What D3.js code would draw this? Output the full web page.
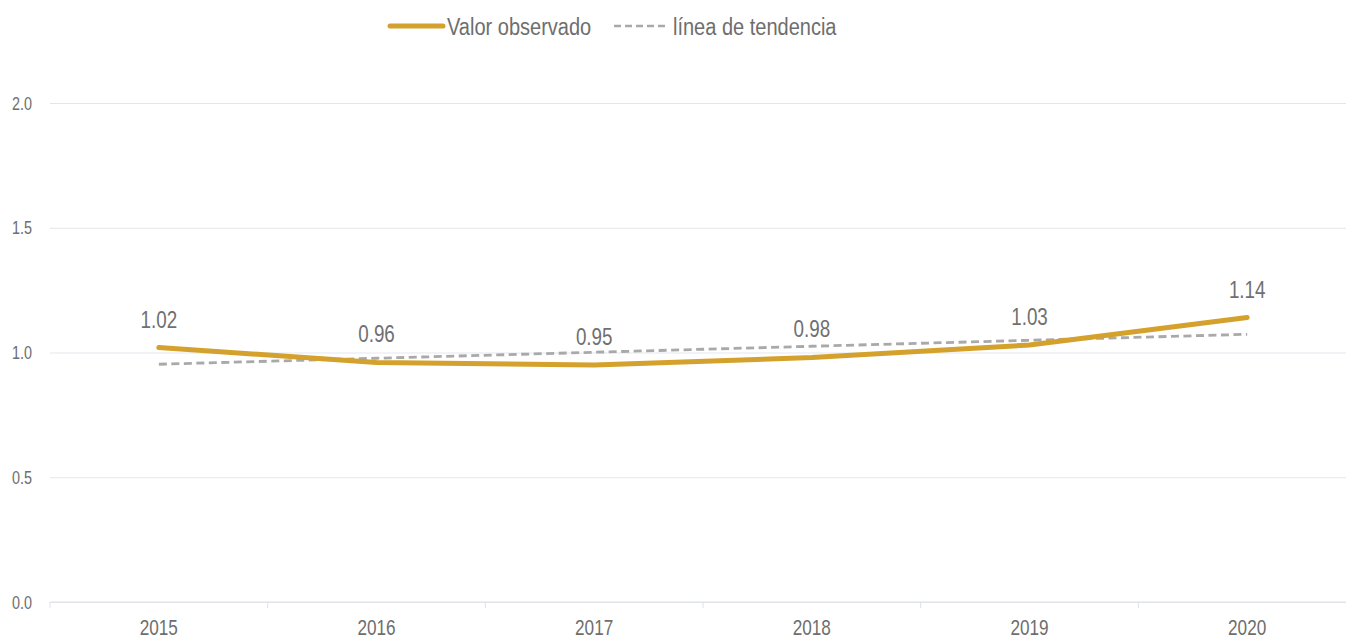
<!DOCTYPE html>
<html>
<head>
<meta charset="utf-8">
<script src="https://cdn.jsdelivr.net/npm/d3@7"></script>
<style>
  body { margin: 0; background: #fff; }
  svg { display: block; font-family: "Liberation Sans", Arial, sans-serif; }
  .grid line { stroke: #e3e7ec; stroke-width: 1; }
  .grid .domain { display: none; }
  .axis line { stroke: #dde2e8; }
  .ytick, .xtick { fill: #6e6e6e; }
  .val-label { fill: #707070; text-anchor: middle; }
  .legend text { fill: #6e6e6e; }
</style>
</head>
<body>
<svg id="chart" width="1346" height="639"></svg>
<script>
// Data
const years = ["2015", "2016", "2017", "2018", "2019", "2020"];
const observed = [1.02, 0.96, 0.95, 0.98, 1.03, 1.14];
const trend = [0.953, 0.977, 1.001, 1.025, 1.049, 1.073];
const yTicks = [0, 0.5, 1.0, 1.5, 2.0];

const svg = d3.select("#chart");
const margin = { top: 103, right: -10, bottom: 37, left: 50 };
const width = 1346, height = 639;
const innerW = width - margin.left - margin.right;
const innerH = height - margin.top - margin.bottom;

// no narrow font installed, so squeeze text horizontally
function narrowText(sel, x, y, s) {
  return sel.attr("x", 0).attr("y", 0)
    .attr("transform", (d, i) => `translate(${typeof x === "function" ? x(d, i) : x},${typeof y === "function" ? y(d, i) : y}) scale(${s},1)`);
}

const g = svg.append("g").attr("transform", `translate(${margin.left},${margin.top})`);

const x = d3.scaleBand().domain(years).range([0, innerW]);
const y = d3.scaleLinear().domain([0, 2]).range([innerH, 0]);
const cx = d => x(d) + x.bandwidth() / 2;

// Gridlines
g.append("g")
  .attr("class", "grid")
  .call(d3.axisLeft(y).tickValues(yTicks).tickSize(-innerW).tickFormat(""));

// Y labels
const fmt = d3.format(".1f");
g.append("g").selectAll("text")
  .data(yTicks)
  .join("text")
  .attr("class", "ytick")
  .attr("text-anchor", "end")
  .attr("font-size", 18)
  .call(narrowText, -18, d => y(d) + 6.5, 0.8)
  .text(d => fmt(d));

// X axis with ticks at band edges
const gx = g.append("g")
  .attr("class", "axis")
  .attr("transform", `translate(0,${innerH})`);
gx.append("line").attr("x1", 0).attr("x2", innerW);
gx.selectAll(".tk")
  .data(years)
  .join("line")
  .attr("class", "tk")
  .attr("x1", d => x(d)).attr("x2", d => x(d))
  .attr("y1", 0).attr("y2", 6);
gx.selectAll(".xtick")
  .data(years)
  .join("text")
  .attr("class", "xtick")
  .attr("text-anchor", "middle")
  .attr("font-size", 22)
  .call(narrowText, d => cx(d), 33, 0.78)
  .text(d => d);

// Trend line
const line = d3.line().x((d, i) => cx(years[i])).y(d => y(d));
g.append("path")
  .datum(trend)
  .attr("fill", "none")
  .attr("stroke", "#a9a9a9")
  .attr("stroke-width", 2.8)
  .attr("stroke-dasharray", "8,4.5")
  .attr("d", line);

// Observed line
g.append("path")
  .datum(observed)
  .attr("fill", "none")
  .attr("stroke", "#d4a12c")
  .attr("stroke-width", 5)
  .attr("stroke-linecap", "round")
  .attr("stroke-linejoin", "round")
  .attr("d", line);

// Value labels
g.selectAll(".val-label")
  .data(observed)
  .join("text")
  .attr("class", "val-label")
  .attr("font-size", 23.5)
  .call(narrowText, (d, i) => cx(years[i]), d => y(d) - 20, 0.8)
  .text(d => d.toFixed(2));

// Legend
const lg = svg.append("g").attr("class", "legend").attr("transform", "translate(0,26)");
lg.append("line").attr("x1", 390).attr("x2", 443).attr("y1", 0).attr("y2", 0)
  .attr("stroke", "#d4a12c").attr("stroke-width", 5).attr("stroke-linecap", "round");
lg.append("text").attr("font-size", 23).call(narrowText, 447, 9, 0.87).text("Valor observado");
lg.append("line").attr("x1", 614).attr("x2", 668).attr("y1", 0).attr("y2", 0)
  .attr("stroke", "#a9a9a9").attr("stroke-width", 2.6).attr("stroke-dasharray", "7,4");
lg.append("text").attr("font-size", 23).call(narrowText, 673, 9, 0.87).text("línea de tendencia");
</script>
</body>
</html>
